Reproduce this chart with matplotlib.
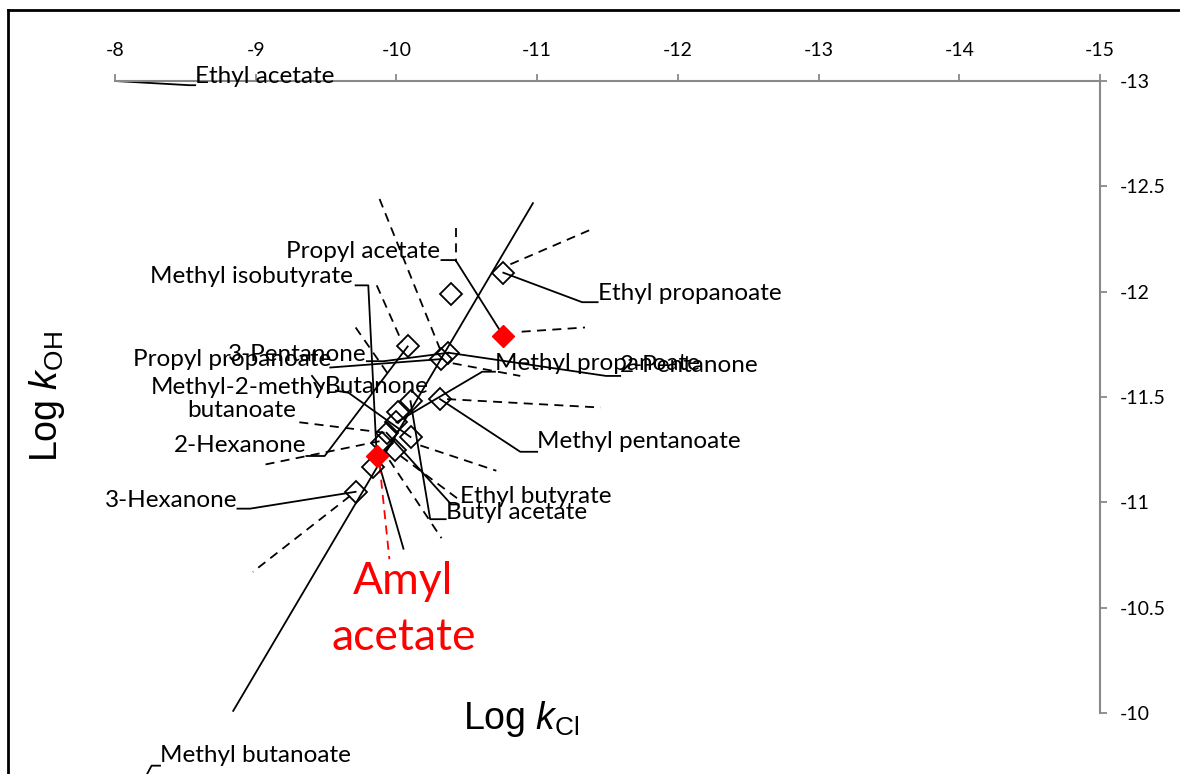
import matplotlib
matplotlib.use('Agg')
import matplotlib.pyplot as plt
from matplotlib.lines import Line2D

#************************DATA************************
# log k(Cl) / log k(OH) of the compounds drawn as open diamonds
kclOpen = [-10.39, -10.76, -10.08, -10.37, -10.32, -10.31, -10.10, -10.01,
           -10.00, -9.93, -10.10, -9.90, -9.99, -9.83, -9.71]
kohOpen = [-11.99, -12.09, -11.74, -11.71, -11.68, -11.49, -11.48, -11.43,
           -11.38, -11.33, -11.31, -11.28, -11.25, -11.17, -11.05]
# highlighted compounds (filled red)
kclRed = [-10.76, -9.86]
kohRed = [-11.79, -11.22]

xTicks = [-8, -9, -10, -11, -12, -13, -14, -15]
yTicks = [-13, -12.5, -12, -11.5, -11, -10.5, -10]

# label text, log kCl, log kOH, alignment
labels = [
    ('Ethyl acetate', -8.57, -13.02, 'left'),
    ('Propyl acetate', -10.31, -12.19, 'right'),
    ('Methyl isobutyrate', -9.69, -12.07, 'right'),
    ('Ethyl propanoate', -11.43, -11.99, 'left'),
    ('3-Pentanone', -9.79, -11.70, 'right'),
    ('Propyl propanoate', -9.54, -11.68, 'right'),
    ('Methyl propanoate', -10.70, -11.66, 'left'),
    ('2-Pentanone', -11.59, -11.65, 'left'),
    ('Methyl-2-methyl\nbutanoate', -8.90, -11.49, 'center'),
    ('Butanone', -9.49, -11.55, 'left'),
    ('Methyl pentanoate', -11.00, -11.29, 'left'),
    ('2-Hexanone', -9.36, -11.27, 'right'),
    ('3-Hexanone', -8.87, -11.01, 'right'),
    ('Ethyl butyrate', -10.45, -11.03, 'left'),
    ('Butyl acetate', -10.35, -10.95, 'left'),
    ('Methyl butanoate', -8.32, -9.80, 'left'),
]

# leader lines (kCl list, kOH list)
leaders = [
    ([-8.00, -8.53, -8.57], [-13.00, -12.98, -12.98]),
    ([-10.32, -10.42, -10.76], [-12.15, -12.15, -11.79]),
    ([-9.71, -9.80, -9.86], [-12.03, -12.03, -11.22]),
    ([-10.76, -11.32, -11.43], [-12.09, -11.95, -11.95]),
    ([-9.79, -9.91, -10.37], [-11.67, -11.67, -11.71]),
    ([-9.53, -10.32], [-11.64, -11.68]),
    ([-10.70, -10.61, -10.00], [-11.62, -11.62, -11.38]),
    ([-11.59, -11.49, -10.37], [-11.60, -11.60, -11.71]),
    ([-9.57, -9.66, -10.10], [-11.53, -11.52, -11.31]),
    ([-9.40, -9.47], [-11.60, -11.54]),
    ([-10.31, -10.88, -11.00], [-11.49, -11.24, -11.24]),
    ([-9.36, -9.49, -10.08], [-11.22, -11.22, -11.74]),
    ([-8.87, -8.96, -9.71], [-10.97, -10.97, -11.05]),
    ([-10.44, -10.39, -9.93], [-10.99, -10.99, -11.33]),
    ([-10.35, -10.24, -10.10], [-10.92, -10.92, -11.48]),
    ([-8.22, -8.26, -8.32], [-9.70, -9.75, -9.75]),
    ([-10.97, -8.84], [-12.42, -10.01]),
    ([-9.86, -10.05], [-11.22, -10.78]),
]

dashed = [
    ([-10.42, -10.42], [-12.30, -12.14]),
    ([-9.88, -10.32], [-12.44, -11.71]),
    ([-9.86, -10.04], [-12.03, -11.76]),
    ([-9.71, -9.95], [-11.83, -11.60]),
    ([-9.31, -9.92], [-11.38, -11.33]),
    ([-9.07, -9.88], [-11.18, -11.29]),
    ([-9.67, -8.98], [-11.03, -10.67]),
    ([-10.17, -10.71], [-11.27, -11.15]),
    ([-9.95, -10.32], [-11.20, -10.83]),
    ([-10.03, -10.47], [-11.22, -11.00]),
    ([-10.81, -11.40], [-12.13, -12.30]),
    ([-10.89, -11.34], [-11.81, -11.83]),
    ([-10.40, -10.88], [-11.66, -11.60]),
    ([-10.36, -11.45], [-11.49, -11.45]),
]

amylLeader = ([-9.88, -9.95], [-11.18, -10.73])
amylLabel = ('Amyl\nacetate', -10.05, -10.49)

#************************STYLE************************
labelFont = ['Lato', 'DejaVu Sans']
axisGrey = '#898989'
dashStyle = (0, (5, 3.5))

plt.rcParams['mathtext.fontset'] = 'custom'
plt.rcParams['mathtext.rm'] = 'Liberation Sans'
plt.rcParams['mathtext.it'] = 'Liberation Sans:italic'

fig = plt.figure(figsize=(11.8, 7.74), dpi=100)
ax = fig.add_axes([115 / 1180, 1 - 713 / 774, 985 / 1180, 632 / 774])

# outer chart frame
fig.add_artist(Line2D([8 / 1180, 1.0], [1 - 10 / 774] * 2, color='black', lw=2, transform=fig.transFigure))
fig.add_artist(Line2D([8 / 1180] * 2, [0.0, 1 - 10 / 774], color='black', lw=2, transform=fig.transFigure))

ax.set_xlim(-8, -15)
ax.set_ylim(-10, -13)
ax.set_xticks(xTicks)
ax.set_yticks(yTicks)
ax.set_xticklabels([str(v) for v in xTicks], fontfamily=labelFont, fontsize=14)
ax.set_yticklabels([('%g' % v) for v in yTicks], fontfamily=labelFont, fontsize=14)
ax.xaxis.tick_top()
ax.yaxis.tick_right()
ax.tick_params(axis='x', direction='out', length=5, width=1.3, color=axisGrey, pad=11)
ax.tick_params(axis='y', direction='out', length=5, width=1.3, color=axisGrey, pad=9)
for side in ['left', 'bottom']:
    ax.spines[side].set_visible(False)
for side in ['top', 'right']:
    ax.spines[side].set_color(axisGrey)
    ax.spines[side].set_linewidth(1.5)
ax.patch.set_alpha(0)

for xs, ys in leaders:
    ax.plot(xs, ys, color='black', lw=1.3, clip_on=False, zorder=2)
for xs, ys in dashed:
    ax.plot(xs, ys, color='black', lw=1.3, linestyle=dashStyle, clip_on=False, zorder=2)
ax.plot(amylLeader[0], amylLeader[1], color='red', lw=1.3, linestyle=dashStyle, zorder=2)

ax.plot(kclOpen, kohOpen, linestyle='none', marker='D', markersize=11,
        markerfacecolor='none', markeredgecolor='black', markeredgewidth=1.3, zorder=3)
ax.plot(kclRed, kohRed, linestyle='none', marker='D', markersize=11,
        markerfacecolor='red', markeredgecolor='red', markeredgewidth=1.0, zorder=3)

for text, x, y, ha in labels:
    ax.text(x, y, text, ha=ha, va='center', multialignment='center', fontfamily=labelFont,
            fontsize=17.5, linespacing=1.15, clip_on=False, zorder=4)
ax.text(amylLabel[1], amylLabel[2], amylLabel[0], ha='center', va='center', color='red',
        fontfamily=labelFont, fontsize=32, linespacing=1.45, zorder=4)

ax.text(-10.89, -9.97, r'Log $\mathit{k}_{\mathrm{Cl}}$', ha='center', va='center',
        fontfamily='Liberation Sans', fontsize=27, clip_on=False)
ax.text(-7.52, -11.50, r'Log $\mathit{k}_{\mathrm{OH}}$', ha='center', va='center', rotation=90,
        fontfamily='Liberation Sans', fontsize=27, clip_on=False)

fig.savefig('out.png', dpi=100)
